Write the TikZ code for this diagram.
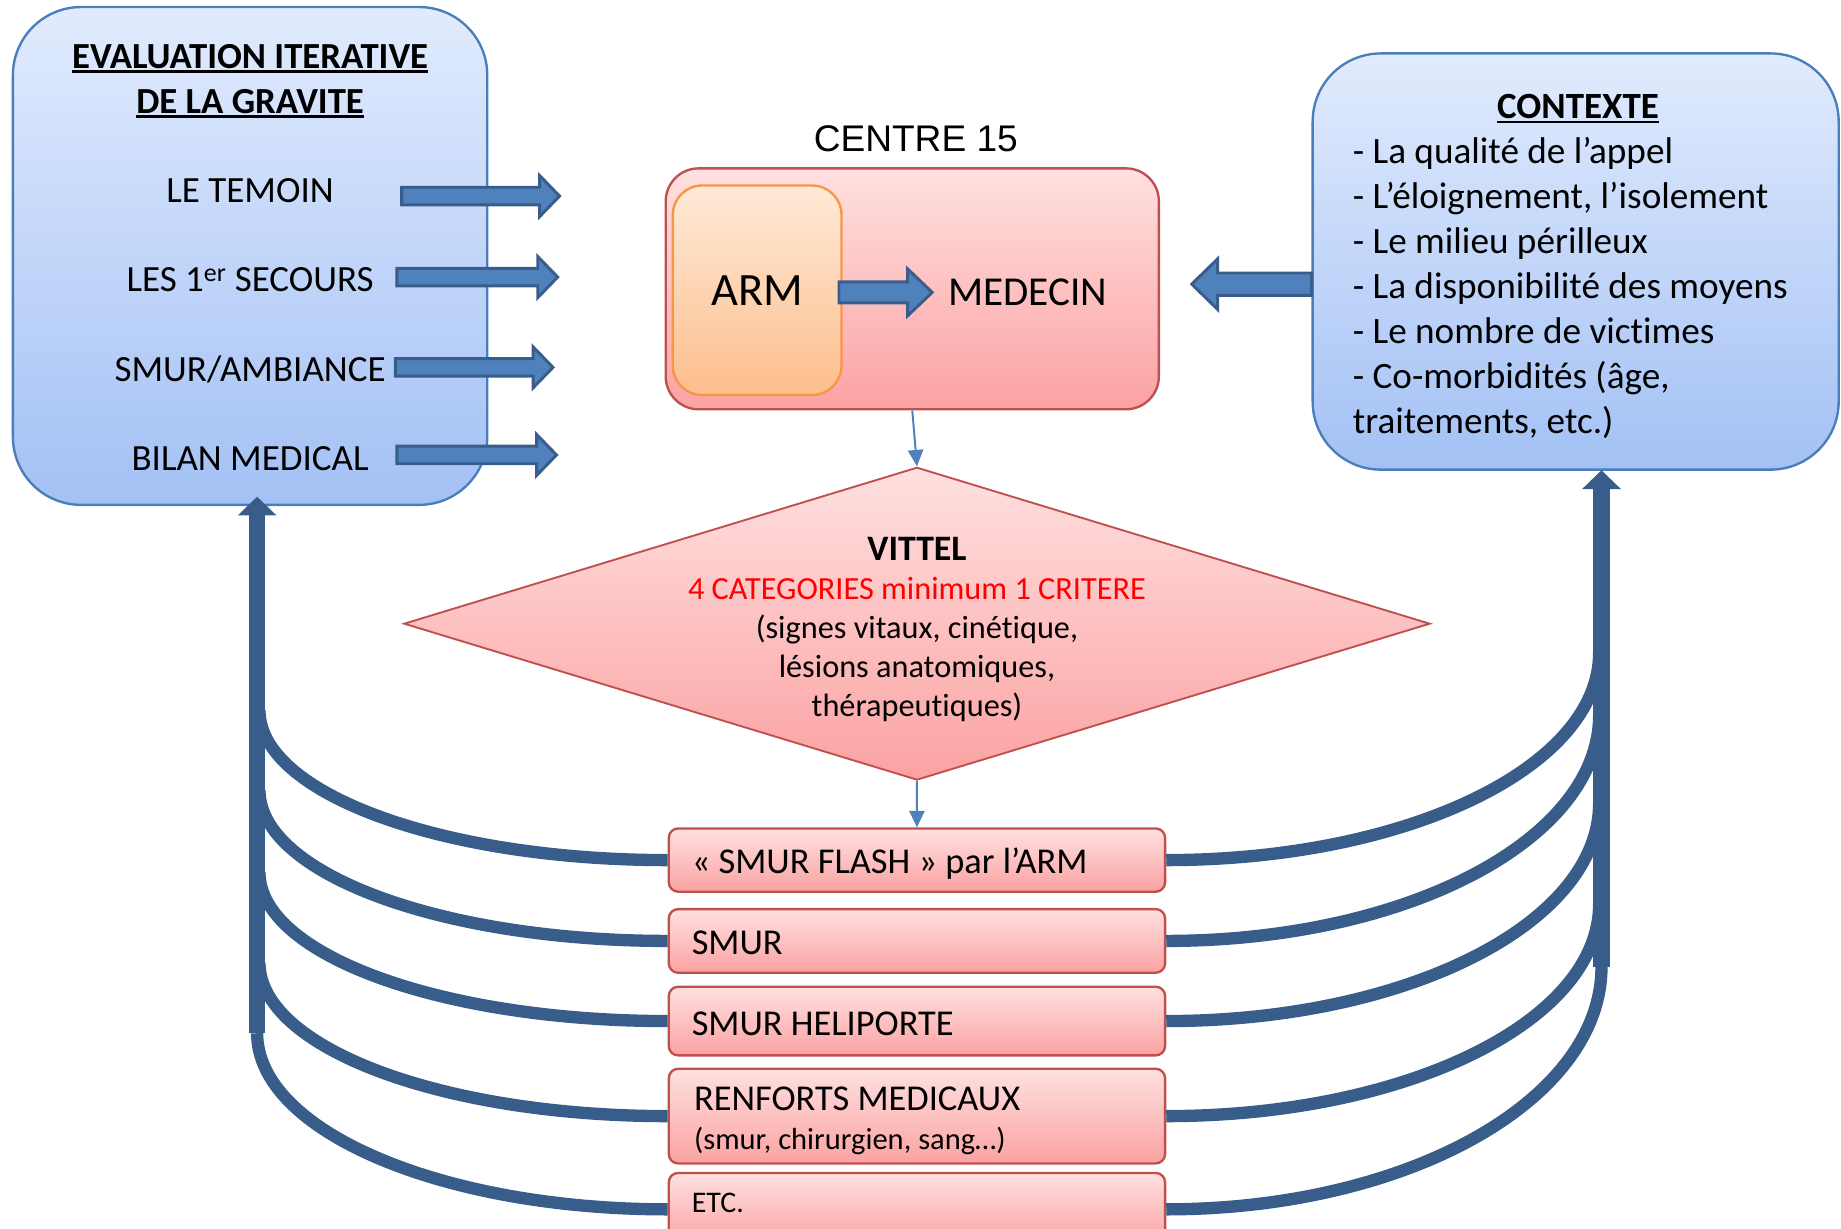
\documentclass[tikz,border=0pt]{standalone}
\usepackage{fontspec}
\setmainfont[Ligatures={NoCommon,NoContextual}, RawFeature={-calt}]{Carlito}
\newfontfamily\arialfont{Liberation Sans}
\usepackage{xcolor}
\usetikzlibrary{positioning, shapes.geometric, arrows.meta}

\definecolor{bluetop}{RGB}{225,235,253}
\definecolor{bluebot}{RGB}{163,193,245}
\definecolor{blueline}{RGB}{74,126,187}
\definecolor{pinktop}{RGB}{255,224,224}
\definecolor{pinkbot}{RGB}{251,162,162}
\definecolor{redline}{RGB}{192,80,77}
\definecolor{orangetop}{RGB}{255,234,216}
\definecolor{orangebot}{RGB}{252,190,140}
\definecolor{orangeline}{RGB}{247,150,70}
\definecolor{arrowfill}{RGB}{79,129,189}
\definecolor{arrowdark}{RGB}{56,93,138}

% thick underline for the titles
\newsavebox{\titlebox}
\newcommand{\titleul}[1]{\sbox{\titlebox}{#1}\rlap{\rule[-4pt]{\wd\titlebox}{2.3pt}}\usebox{\titlebox}}

% tail x, head x, tip x, y, half shaft, half head
\newcommand{\blockarrow}[6]{%
  \filldraw[fatarrow] (#1,#4-#5) -- (#2,#4-#5) -- (#2,#4-#6) -- (#3,#4)
    -- (#2,#4+#6) -- (#2,#4+#5) -- (#1,#4+#5) -- cycle;}

\begin{document}
\begin{tikzpicture}[x=1pt, y=-1pt]
\tikzset{
bigbox/.style={draw=blueline, line width=2pt, rounded corners=58pt, top color=bluetop, bottom color=bluebot, inner sep=0pt}, % the two blue panels
redbox/.style={draw=redline, line width=2pt, top color=pinktop, bottom color=pinkbot, inner sep=0pt}, % pink shapes
optbox/.style={redbox, rounded corners=8pt, minimum width=422.7pt}, % the stacked choices
item/.style={anchor=base, font=\fontsize{31.5}{37}\selectfont}, % texts of the left panel
optlabel/.style={anchor=base west, inner sep=0pt, font=\fontsize{31}{37}\selectfont},
fatarrow/.style={fill=arrowfill, draw=arrowdark, line width=2.5pt, line join=miter}, % block arrows
backline/.style={draw=arrowdark, line width=10.5pt}, % curved returns
upline/.style={draw=arrowdark, line width=14pt, -{Triangle[width=32pt,length=16pt]}},
thinarrow/.style={draw=arrowfill, line width=1.7pt, -{Triangle[width=13pt,length=14pt]}},
}
\useasboundingbox (0,0) rectangle (1568,1046);

% left panel
\node[bigbox, minimum width=404pt, minimum height=424pt] (eval) at (213,218) {};
\node[anchor=base, font=\fontsize{31.3}{36}\selectfont\bfseries] (evaltitle) at (213,58.3) {\titleul{EVALUATION ITERATIVE}};
\node[anchor=base, font=\fontsize{31.3}{36}\selectfont\bfseries] (evaltitleb) at (213,96.5) {\titleul{DE LA GRAVITE}};
\node[item] (temoin) at (213,172.4) {LE TEMOIN};
\node[item] (secours) at (213,248.5) {LES 1\textsuperscript{er} SECOURS};
\node[item] (ambiance) at (213,324.6) {SMUR/AMBIANCE};
\node[item] (bilan) at (213,401) {BILAN MEDICAL};
\blockarrow{342}{459.6}{476.6}{167}{7.5}{17.5}
\blockarrow{338}{458}{475}{236}{7.5}{17.5}
\blockarrow{336.7}{454}{471}{312.9}{7.5}{17.5}
\blockarrow{338}{457}{474}{387.5}{7.5}{17.5}

% centre 15
\node[anchor=base, font=\arialfont\fontsize{31.6}{38}\selectfont] (c15) at (780,129.1) {CENTRE 15};
\node[redbox, rounded corners=28pt, minimum width=420pt, minimum height=205.2pt] (centre) at (777,246) {};
\node[draw=orangeline, line width=2pt, top color=orangetop, bottom color=orangebot, rounded corners=25pt,
  minimum width=143.7pt, minimum height=178.4pt, inner sep=0pt, font=\fontsize{39.5}{47}\selectfont,
  text height=25.4pt, text depth=0pt] (arm) at (644.85,247.2) {ARM};
\node[anchor=base west, inner sep=0pt, font=\fontsize{35}{42}\selectfont] (medecin) at (807.5,260.3) {MEDECIN};
\blockarrow{714.6}{773}{794}{249}{9}{20}

% context panel
\node[bigbox, minimum width=448pt, minimum height=354.5pt] (context) at (1342,222.75) {};
\node[anchor=base, font=\fontsize{31.5}{38}\selectfont\bfseries] (ctxtitle) at (1344,101) {\titleul{CONTEXTE}};
\node[anchor=base west, align=left, inner sep=0pt, font=\fontsize{31.7}{38.3}\selectfont] (ctxlist) at (1152,369.2)
  {- La qualité de l’appel\\- L’éloignement, l’isolement\\- Le milieu périlleux\\- La disponibilité des moyens\\- Le nombre de victimes\\- Co-morbidités (âge,\\traitements, etc.)};
\blockarrow{1117}{1037}{1015}{242}{9.5}{21.5}

% decision
\node[redbox, line width=1.6pt, diamond, minimum width=874pt, minimum height=266.4pt] (vittel) at (781,531.2) {};
\node[anchor=base, align=center, font=\fontsize{27.5}{33.3}\selectfont] (vitteltxt) at (781,610.2)
  {\textbf{\fontsize{30.5}{33.3}\selectfont VITTEL}\\\textcolor{red}{4 CATEGORIES minimum 1 CRITERE}\\(signes vitaux, cinétique,\\lésions anatomiques,\\thérapeutiques)};

% choices
\node[optbox, minimum height=53.9pt] (flash) at (780.95,732.55) {};
\node[optbox, minimum height=54.2pt] (smur) at (780.95,801.4) {};
\node[optbox, minimum height=58.5pt] (heli) at (780.95,869.65) {};
\node[optbox, minimum height=80.6pt] (renforts) at (780.95,950.6) {};
\node[optbox, minimum height=62pt] (etc) at (780.95,1030) {};
\node[optlabel] (flashtxt) at (589,744) {«~SMUR FLASH~» par l’ARM};
\node[optlabel] (smurtxt) at (589,812.6) {SMUR};
\node[optlabel] (helitxt) at (589,881.6) {SMUR HELIPORTE};
\node[optlabel] (renftxt) at (591,945.5) {RENFORTS MEDICAUX};
\node[optlabel, font=\fontsize{26}{31}\selectfont] (renfsub) at (591,979) {(smur, chirurgien, sang…)};
\node[optlabel, font=\fontsize{25.5}{31}\selectfont] (etctxt) at (589,1033) {ETC.};

\draw[thinarrow] (centre.south) -- (vittel.north);
\draw[thinarrow] (vittel.south) -- (flash.north);

% returns to the left panel
\coordinate (lj1) at (221,605);
\coordinate (lj2) at (221,673);
\coordinate (lj3) at (221,743);
\coordinate (lj4) at (221,820);
\coordinate (lbot) at (219,880);
\coordinate (ltop) at (219,423);
\draw[backline] (flash.west) .. controls +(-193,0) and +(0,70.4) .. (lj1);
\draw[backline] (smur.west) .. controls +(-193,0) and +(0,70.9) .. (lj2);
\draw[backline] (heli.west) .. controls +(-193,0) and +(0,70) .. (lj3);
\draw[backline] (renforts.west) .. controls +(-193,0) and +(0,72) .. (lj4);
\draw[backline] (etc.west) .. controls +(-193,0) and +(0,83) .. (lbot);
\draw[upline] (lbot) -- (ltop);

% returns to the context panel
\coordinate (rj1) at (1362,556);
\coordinate (rj2) at (1362,609);
\coordinate (rj3) at (1362,684);
\coordinate (rj4) at (1362,770);
\coordinate (rbot) at (1364,823.4);
\coordinate (rtop) at (1364,400.5);
\draw[backline] (flash.east) .. controls +(205,0) and +(0,97.4) .. (rj1);
\draw[backline] (smur.east) .. controls +(205,0) and +(0,106) .. (rj2);
\draw[backline] (heli.east) .. controls +(205,0) and +(0,102.5) .. (rj3);
\draw[backline] (renforts.east) .. controls +(205,0) and +(0,99.7) .. (rj4);
\draw[backline] (etc.east) .. controls +(205,0) and +(0,114) .. (rbot);
\draw[upline] (rbot) -- (rtop);
\end{tikzpicture}
\end{document}
